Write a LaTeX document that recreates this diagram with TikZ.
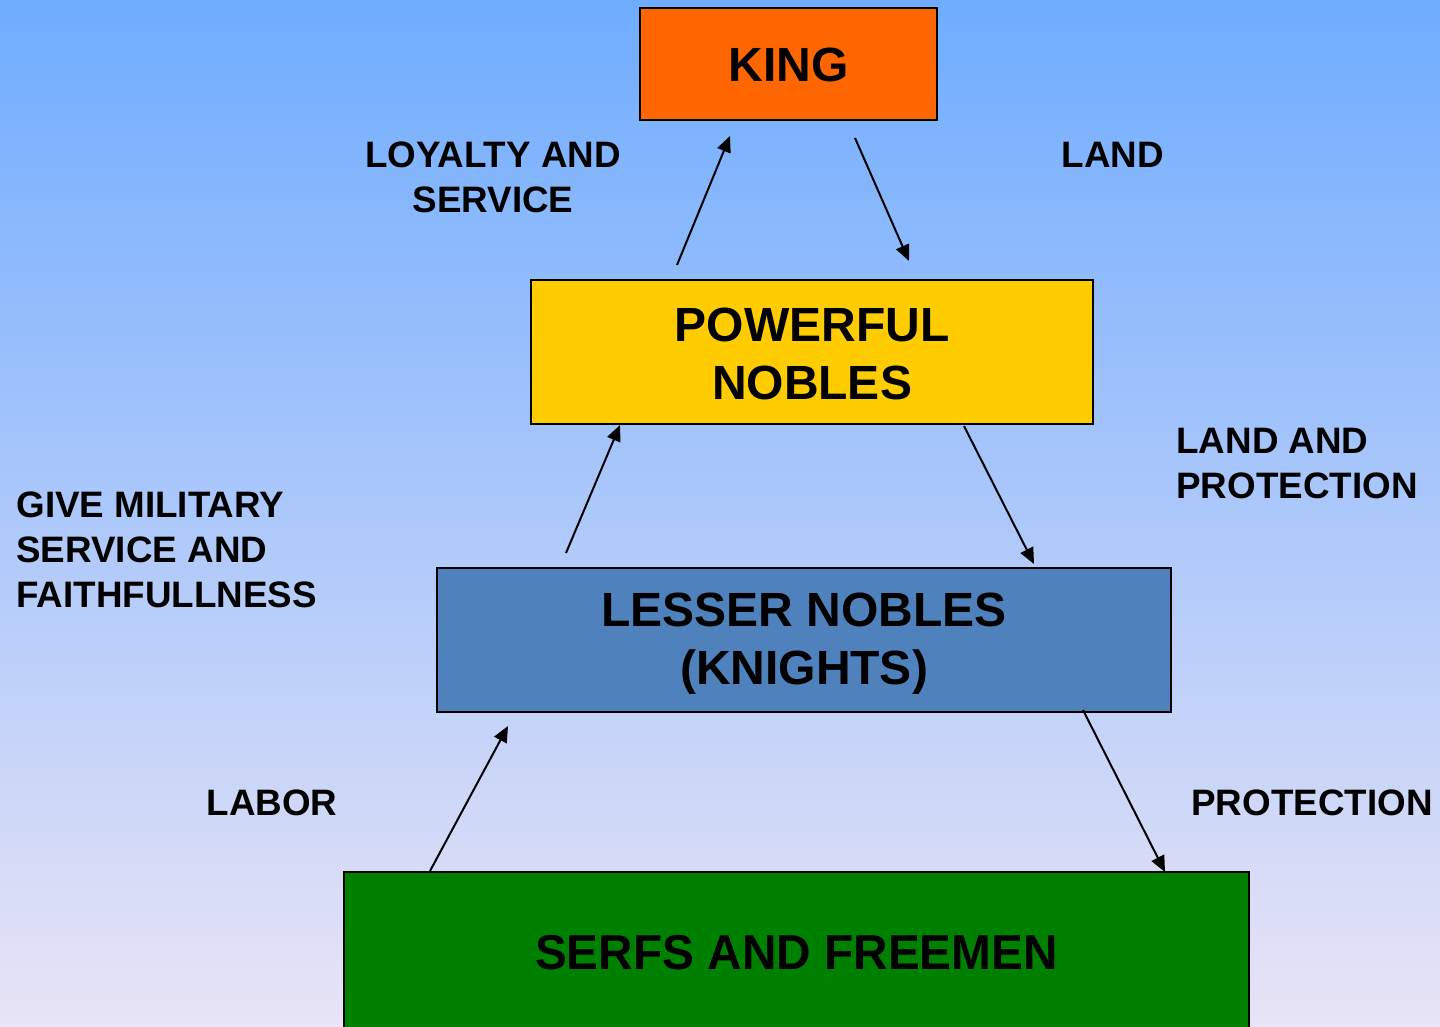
\documentclass[tikz,border=0pt]{standalone}
\usepackage{fontspec}
\setmainfont{Liberation Sans}
\usetikzlibrary{arrows.meta}
\definecolor{bgtop}{RGB}{111,172,255}
\definecolor{bgbot}{RGB}{233,228,246}
\definecolor{kingc}{HTML}{FF6600}
\definecolor{noblec}{HTML}{FFCC00}
\definecolor{lesserc}{HTML}{4F81BD}
\definecolor{serfc}{HTML}{008000}
\tikzset{
  tierbox/.style={draw=black, line width=1pt, inner sep=0pt},
  tiertext/.style={inner sep=0pt, align=center, font=\fontsize{24}{29}\selectfont\bfseries},
  lbl/.style={inner sep=0pt, font=\fontsize{18.4}{22.5}\selectfont\bfseries},
  flow/.style={line width=1pt, -{Triangle[length=8pt,width=7pt]}}
}
\begin{document}
\begin{tikzpicture}[x=0.5pt,y=-0.5pt]
\useasboundingbox (0,0) rectangle (1440,1027);
\shade[top color=bgtop, bottom color=bgbot] (0,0) rectangle (1440,1027);
\begin{scope}
\clip (0,0) rectangle (1440,1027);
\node[tierbox, fill=kingc, minimum width=148.5pt, minimum height=56pt] (king) at (788.5,64) {};
\node[tierbox, fill=noblec, minimum width=281pt, minimum height=72pt] (nobles) at (812,352) {};
\node[tierbox, fill=lesserc, minimum width=367pt, minimum height=72pt] (lesser) at (804,640) {};
\node[tierbox, fill=serfc, minimum width=452.5pt, minimum height=84pt] (serfs) at (796.5,956) {};
\end{scope}
\node[tiertext] (kingtext) at (788.5,65) {KING};
\node[tiertext] (noblestext) at (812,354) {POWERFUL\\NOBLES};
\node[tiertext] (lessertext) at (804,644) {LESSER NOBLES\\(KNIGHTS)};
\node[tiertext, font=\fontsize{24.5}{29}\selectfont\bfseries] (serfstext) at (796.5,953) {\scalebox{0.975}[1]{SERFS AND FREEMEN}};

\node[lbl, align=center] (loyal) at (493,177) {LOYALTY AND\\SERVICE};
\node[lbl] (land) at (1113,155) {LAND};
\node[lbl, align=left, anchor=west] (landprot) at (1176,464) {LAND AND\\PROTECTION};
\node[lbl, align=left, anchor=west] (military) at (16,550) {GIVE MILITARY\\SERVICE AND\\FAITHFULLNESS};
\node[lbl] (labor) at (272,803) {LABOR};
\node[lbl, anchor=west] (prot) at (1191,803) {PROTECTION};

\coordinate (a1s) at (677,265); \coordinate (a1e) at (730,136);
\coordinate (a2s) at (855,138); \coordinate (a2e) at (909,261);
\coordinate (a3s) at (566,553); \coordinate (a3e) at (620,425);
\coordinate (a4s) at (964,426); \coordinate (a4e) at (1034,564);
\coordinate (a5s) at (430,871); \coordinate (a5e) at (508,726);
\coordinate (a6s) at (1083,710); \coordinate (a6e) at (1165,872);
\draw[flow] (a1s) -- (a1e);
\draw[flow] (a2s) -- (a2e);
\draw[flow] (a3s) -- (a3e);
\draw[flow] (a4s) -- (a4e);
\draw[flow] (a5s) -- (a5e);
\draw[flow] (a6s) -- (a6e);
\end{tikzpicture}
\end{document}
